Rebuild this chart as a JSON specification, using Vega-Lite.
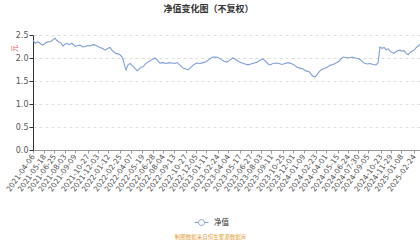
{
  "$schema": "https://vega.github.io/schema/vega-lite/v6.json",
  "autosize": {"type": "none"},
  "width": 387,
  "height": 115,
  "padding": {"left": 33, "top": 35, "right": 0, "bottom": 90},
  "background": "white",
  "title": {"text": "净值变化图（不复权）", "fontSize": 9, "fontWeight": "bold", "font": "Noto Sans CJK SC", "color": "#333", "anchor": "middle", "dx": -18, "dy": 4, "offset": 12, "baseline": "bottom"},
  "config": {"view": {"stroke": null}},
  "data": {"values": [
    {"date": "2021-04-06", "nav": 2.39, "s": "净值"},
    {"date": "2021-04-14", "nav": 2.32, "s": "净值"},
    {"date": "2021-04-25", "nav": 2.35, "s": "净值"},
    {"date": "2021-05-06", "nav": 2.30, "s": "净值"},
    {"date": "2021-05-13", "nav": 2.28, "s": "净值"},
    {"date": "2021-05-24", "nav": 2.33, "s": "净值"},
    {"date": "2021-06-01", "nav": 2.35, "s": "净值"},
    {"date": "2021-06-12", "nav": 2.36, "s": "净值"},
    {"date": "2021-06-20", "nav": 2.40, "s": "净值"},
    {"date": "2021-06-27", "nav": 2.43, "s": "净值"},
    {"date": "2021-07-04", "nav": 2.38, "s": "净值"},
    {"date": "2021-07-12", "nav": 2.35, "s": "净值"},
    {"date": "2021-07-19", "nav": 2.33, "s": "净值"},
    {"date": "2021-07-27", "nav": 2.26, "s": "净值"},
    {"date": "2021-08-03", "nav": 2.30, "s": "净值"},
    {"date": "2021-08-11", "nav": 2.32, "s": "净值"},
    {"date": "2021-08-18", "nav": 2.29, "s": "净值"},
    {"date": "2021-08-29", "nav": 2.32, "s": "净值"},
    {"date": "2021-09-10", "nav": 2.25, "s": "净值"},
    {"date": "2021-09-21", "nav": 2.27, "s": "净值"},
    {"date": "2021-09-28", "nav": 2.28, "s": "净值"},
    {"date": "2021-10-09", "nav": 2.24, "s": "净值"},
    {"date": "2021-10-17", "nav": 2.25, "s": "净值"},
    {"date": "2021-10-28", "nav": 2.27, "s": "净值"},
    {"date": "2021-11-04", "nav": 2.26, "s": "净值"},
    {"date": "2021-11-16", "nav": 2.29, "s": "净值"},
    {"date": "2021-11-23", "nav": 2.28, "s": "净值"},
    {"date": "2021-12-04", "nav": 2.25, "s": "净值"},
    {"date": "2021-12-12", "nav": 2.23, "s": "净值"},
    {"date": "2021-12-23", "nav": 2.20, "s": "净值"},
    {"date": "2021-12-30", "nav": 2.17, "s": "净值"},
    {"date": "2022-01-11", "nav": 2.21, "s": "净值"},
    {"date": "2022-01-18", "nav": 2.23, "s": "净值"},
    {"date": "2022-01-25", "nav": 2.17, "s": "净值"},
    {"date": "2022-02-02", "nav": 2.13, "s": "净值"},
    {"date": "2022-02-09", "nav": 2.10, "s": "净值"},
    {"date": "2022-02-17", "nav": 2.09, "s": "净值"},
    {"date": "2022-02-24", "nav": 2.07, "s": "净值"},
    {"date": "2022-03-04", "nav": 2.02, "s": "净值"},
    {"date": "2022-03-07", "nav": 1.98, "s": "净值"},
    {"date": "2022-03-11", "nav": 1.89, "s": "净值"},
    {"date": "2022-03-15", "nav": 1.80, "s": "净值"},
    {"date": "2022-03-19", "nav": 1.74, "s": "净值"},
    {"date": "2022-03-22", "nav": 1.80, "s": "净值"},
    {"date": "2022-03-26", "nav": 1.85, "s": "净值"},
    {"date": "2022-04-03", "nav": 1.88, "s": "净值"},
    {"date": "2022-04-10", "nav": 1.84, "s": "净值"},
    {"date": "2022-04-17", "nav": 1.80, "s": "净值"},
    {"date": "2022-04-25", "nav": 1.75, "s": "净值"},
    {"date": "2022-04-29", "nav": 1.72, "s": "净值"},
    {"date": "2022-05-06", "nav": 1.76, "s": "净值"},
    {"date": "2022-05-14", "nav": 1.80, "s": "净值"},
    {"date": "2022-05-21", "nav": 1.81, "s": "净值"},
    {"date": "2022-05-28", "nav": 1.86, "s": "净值"},
    {"date": "2022-06-05", "nav": 1.90, "s": "净值"},
    {"date": "2022-06-16", "nav": 1.94, "s": "净值"},
    {"date": "2022-06-24", "nav": 1.97, "s": "净值"},
    {"date": "2022-07-05", "nav": 2.00, "s": "净值"},
    {"date": "2022-07-12", "nav": 1.96, "s": "净值"},
    {"date": "2022-07-23", "nav": 1.89, "s": "净值"},
    {"date": "2022-08-04", "nav": 1.90, "s": "净值"},
    {"date": "2022-08-15", "nav": 1.88, "s": "净值"},
    {"date": "2022-08-26", "nav": 1.90, "s": "净值"},
    {"date": "2022-09-06", "nav": 1.89, "s": "净值"},
    {"date": "2022-09-17", "nav": 1.88, "s": "净值"},
    {"date": "2022-09-25", "nav": 1.90, "s": "净值"},
    {"date": "2022-10-06", "nav": 1.84, "s": "净值"},
    {"date": "2022-10-17", "nav": 1.78, "s": "净值"},
    {"date": "2022-10-28", "nav": 1.76, "s": "净值"},
    {"date": "2022-11-05", "nav": 1.74, "s": "净值"},
    {"date": "2022-11-16", "nav": 1.80, "s": "净值"},
    {"date": "2022-11-27", "nav": 1.86, "s": "净值"},
    {"date": "2022-12-08", "nav": 1.89, "s": "净值"},
    {"date": "2022-12-19", "nav": 1.88, "s": "净值"},
    {"date": "2022-12-31", "nav": 1.90, "s": "净值"},
    {"date": "2023-01-11", "nav": 1.92, "s": "净值"},
    {"date": "2023-01-22", "nav": 1.97, "s": "净值"},
    {"date": "2023-01-29", "nav": 2.00, "s": "净值"},
    {"date": "2023-02-06", "nav": 2.02, "s": "净值"},
    {"date": "2023-02-17", "nav": 2.02, "s": "净值"},
    {"date": "2023-02-25", "nav": 2.01, "s": "净值"},
    {"date": "2023-03-08", "nav": 1.97, "s": "净值"},
    {"date": "2023-03-19", "nav": 1.93, "s": "净值"},
    {"date": "2023-03-30", "nav": 1.91, "s": "净值"},
    {"date": "2023-04-10", "nav": 1.96, "s": "净值"},
    {"date": "2023-04-21", "nav": 2.00, "s": "净值"},
    {"date": "2023-05-03", "nav": 1.96, "s": "净值"},
    {"date": "2023-05-14", "nav": 1.92, "s": "净值"},
    {"date": "2023-05-25", "nav": 1.89, "s": "净值"},
    {"date": "2023-06-05", "nav": 1.87, "s": "净值"},
    {"date": "2023-06-16", "nav": 1.85, "s": "净值"},
    {"date": "2023-06-27", "nav": 1.87, "s": "净值"},
    {"date": "2023-07-09", "nav": 1.89, "s": "净值"},
    {"date": "2023-07-20", "nav": 1.91, "s": "净值"},
    {"date": "2023-07-31", "nav": 1.95, "s": "净值"},
    {"date": "2023-08-11", "nav": 1.98, "s": "净值"},
    {"date": "2023-08-22", "nav": 1.92, "s": "净值"},
    {"date": "2023-08-30", "nav": 1.87, "s": "净值"},
    {"date": "2023-09-06", "nav": 1.85, "s": "净值"},
    {"date": "2023-09-17", "nav": 1.88, "s": "净值"},
    {"date": "2023-09-29", "nav": 1.89, "s": "净值"},
    {"date": "2023-10-10", "nav": 1.88, "s": "净值"},
    {"date": "2023-10-21", "nav": 1.86, "s": "净值"},
    {"date": "2023-11-01", "nav": 1.88, "s": "净值"},
    {"date": "2023-11-12", "nav": 1.90, "s": "净值"},
    {"date": "2023-11-24", "nav": 1.88, "s": "净值"},
    {"date": "2023-12-05", "nav": 1.85, "s": "净值"},
    {"date": "2023-12-16", "nav": 1.80, "s": "净值"},
    {"date": "2023-12-27", "nav": 1.78, "s": "净值"},
    {"date": "2024-01-07", "nav": 1.76, "s": "净值"},
    {"date": "2024-01-18", "nav": 1.72, "s": "净值"},
    {"date": "2024-01-30", "nav": 1.70, "s": "净值"},
    {"date": "2024-02-06", "nav": 1.65, "s": "净值"},
    {"date": "2024-02-14", "nav": 1.60, "s": "净值"},
    {"date": "2024-02-21", "nav": 1.59, "s": "净值"},
    {"date": "2024-02-28", "nav": 1.64, "s": "净值"},
    {"date": "2024-03-07", "nav": 1.70, "s": "净值"},
    {"date": "2024-03-14", "nav": 1.74, "s": "净值"},
    {"date": "2024-03-26", "nav": 1.77, "s": "净值"},
    {"date": "2024-04-06", "nav": 1.80, "s": "净值"},
    {"date": "2024-04-17", "nav": 1.84, "s": "净值"},
    {"date": "2024-04-28", "nav": 1.86, "s": "净值"},
    {"date": "2024-05-09", "nav": 1.89, "s": "净值"},
    {"date": "2024-05-20", "nav": 1.93, "s": "净值"},
    {"date": "2024-05-28", "nav": 1.98, "s": "净值"},
    {"date": "2024-06-04", "nav": 2.02, "s": "净值"},
    {"date": "2024-06-16", "nav": 2.01, "s": "净值"},
    {"date": "2024-06-27", "nav": 2.00, "s": "净值"},
    {"date": "2024-07-08", "nav": 2.02, "s": "净值"},
    {"date": "2024-07-19", "nav": 2.00, "s": "净值"},
    {"date": "2024-07-30", "nav": 1.99, "s": "净值"},
    {"date": "2024-08-07", "nav": 1.97, "s": "净值"},
    {"date": "2024-08-14", "nav": 1.92, "s": "净值"},
    {"date": "2024-08-22", "nav": 1.89, "s": "净值"},
    {"date": "2024-09-02", "nav": 1.87, "s": "净值"},
    {"date": "2024-09-13", "nav": 1.88, "s": "净值"},
    {"date": "2024-09-24", "nav": 1.86, "s": "净值"},
    {"date": "2024-10-05", "nav": 1.85, "s": "净值"},
    {"date": "2024-10-13", "nav": 1.90, "s": "净值"},
    {"date": "2024-10-17", "nav": 2.10, "s": "净值"},
    {"date": "2024-10-20", "nav": 2.24, "s": "净值"},
    {"date": "2024-10-28", "nav": 2.21, "s": "净值"},
    {"date": "2024-11-04", "nav": 2.23, "s": "净值"},
    {"date": "2024-11-12", "nav": 2.18, "s": "净值"},
    {"date": "2024-11-19", "nav": 2.20, "s": "净值"},
    {"date": "2024-11-27", "nav": 2.15, "s": "净值"},
    {"date": "2024-12-04", "nav": 2.12, "s": "净值"},
    {"date": "2024-12-11", "nav": 2.10, "s": "净值"},
    {"date": "2024-12-19", "nav": 2.14, "s": "净值"},
    {"date": "2024-12-26", "nav": 2.16, "s": "净值"},
    {"date": "2025-01-03", "nav": 2.17, "s": "净值"},
    {"date": "2025-01-10", "nav": 2.15, "s": "净值"},
    {"date": "2025-01-18", "nav": 2.16, "s": "净值"},
    {"date": "2025-01-25", "nav": 2.10, "s": "净值"},
    {"date": "2025-02-02", "nav": 2.07, "s": "净值"},
    {"date": "2025-02-09", "nav": 2.12, "s": "净值"},
    {"date": "2025-02-17", "nav": 2.15, "s": "净值"},
    {"date": "2025-02-24", "nav": 2.17, "s": "净值"},
    {"date": "2025-03-03", "nav": 2.22, "s": "净值"},
    {"date": "2025-03-11", "nav": 2.26, "s": "净值"},
    {"date": "2025-03-18", "nav": 2.30, "s": "净值"}
  ]},
  "mark": {"type": "line", "strokeWidth": 1.1, "clip": true},
  "encoding": {
    "x": {
      "field": "date", "type": "temporal",
      "scale": {"type": "utc", "domain": [{"year": 2021, "month": 4, "date": 6, "utc": true}, {"year": 2025, "month": 3, "date": 18, "utc": true}], "nice": false},
      "axis": {
        "values": [
          {"year": 2021, "month": 4, "date": 6, "utc": true},
          {"year": 2021, "month": 5, "date": 18, "utc": true},
          {"year": 2021, "month": 6, "date": 25, "utc": true},
          {"year": 2021, "month": 8, "date": 3, "utc": true},
          {"year": 2021, "month": 9, "date": 9, "utc": true},
          {"year": 2021, "month": 10, "date": 27, "utc": true},
          {"year": 2021, "month": 12, "date": 3, "utc": true},
          {"year": 2022, "month": 1, "date": 12, "utc": true},
          {"year": 2022, "month": 2, "date": 25, "utc": true},
          {"year": 2022, "month": 4, "date": 7, "utc": true},
          {"year": 2022, "month": 5, "date": 19, "utc": true},
          {"year": 2022, "month": 6, "date": 28, "utc": true},
          {"year": 2022, "month": 8, "date": 4, "utc": true},
          {"year": 2022, "month": 9, "date": 13, "utc": true},
          {"year": 2022, "month": 10, "date": 27, "utc": true},
          {"year": 2022, "month": 12, "date": 5, "utc": true},
          {"year": 2023, "month": 1, "date": 11, "utc": true},
          {"year": 2023, "month": 2, "date": 24, "utc": true},
          {"year": 2023, "month": 4, "date": 4, "utc": true},
          {"year": 2023, "month": 5, "date": 17, "utc": true},
          {"year": 2023, "month": 6, "date": 27, "utc": true},
          {"year": 2023, "month": 8, "date": 3, "utc": true},
          {"year": 2023, "month": 9, "date": 11, "utc": true},
          {"year": 2023, "month": 10, "date": 25, "utc": true},
          {"year": 2023, "month": 12, "date": 1, "utc": true},
          {"year": 2024, "month": 1, "date": 9, "utc": true},
          {"year": 2024, "month": 2, "date": 23, "utc": true},
          {"year": 2024, "month": 4, "date": 1, "utc": true},
          {"year": 2024, "month": 5, "date": 15, "utc": true},
          {"year": 2024, "month": 6, "date": 24, "utc": true},
          {"year": 2024, "month": 7, "date": 30, "utc": true},
          {"year": 2024, "month": 9, "date": 5, "utc": true},
          {"year": 2024, "month": 10, "date": 23, "utc": true},
          {"year": 2024, "month": 11, "date": 29, "utc": true},
          {"year": 2025, "month": 1, "date": 8, "utc": true},
          {"year": 2025, "month": 2, "date": 24, "utc": true}
        ],
        "format": "%Y-%m-%d",
        "labelAngle": -55,
        "labelAlign": "right",
        "labelBaseline": "middle",
        "labelFontSize": 7.5,
        "labelColor": "#555",
        "labelFont": "DejaVu Sans",
        "labelPadding": 2,
        "labelOverlap": false,
        "labelFlush": false,
        "tickSize": 3,
        "tickColor": "#999",
        "domainColor": "#999",
        "grid": false,
        "title": "制图数据来自恒生聚源数据库",
        "titleFontSize": 5.5,
        "titleFontWeight": "normal",
        "titleColor": "#e3a23a",
        "titleFont": "Noto Sans CJK SC",
        "titleX": 177,
        "titleY": 86,
        "titleAlign": "center",
        "titleBaseline": "middle"
      }
    },
    "y": {
      "field": "nav", "type": "quantitative",
      "scale": {"domain": [0, 2.5], "nice": false},
      "axis": {
        "values": [0, 0.5, 1, 1.5, 2, 2.5],
        "labelFontSize": 8,
        "labelColor": "#555",
        "labelFont": "DejaVu Sans",
        "labelPadding": 1,
        "tickSize": 4,
        "tickColor": "#333",
        "domainColor": "#333",
        "gridColor": "#dddddd",
        "gridDash": [3, 3],
        "title": "元",
        "titleFontSize": 7,
        "titleFontWeight": "normal",
        "titleColor": "#e8585a",
        "titleFont": "Noto Sans CJK SC",
        "titleX": -19,
        "titleY": 13,
        "titleAngle": -90,
        "titleAlign": "center",
        "titleBaseline": "middle"
      }
    },
    "color": {
      "field": "s", "type": "nominal",
      "scale": {"range": ["#7f9fd6"]},
      "legend": {
        "orient": "none",
        "legendX": 161,
        "legendY": 180,
        "title": null,
        "symbolType": "M-1,0L-0.42,0M0.42,0L1,0M0.42,0A0.42,0.42,0,1,1,-0.42,0A0.42,0.42,0,1,1,0.42,0Z",
        "symbolSize": 196,
        "symbolStrokeWidth": 1,
        "symbolFillColor": "white",
        "labelFontSize": 7.5,
        "labelColor": "#333",
        "labelFont": "Noto Sans CJK SC",
        "labelOffset": 5
      }
    }
  }
}
